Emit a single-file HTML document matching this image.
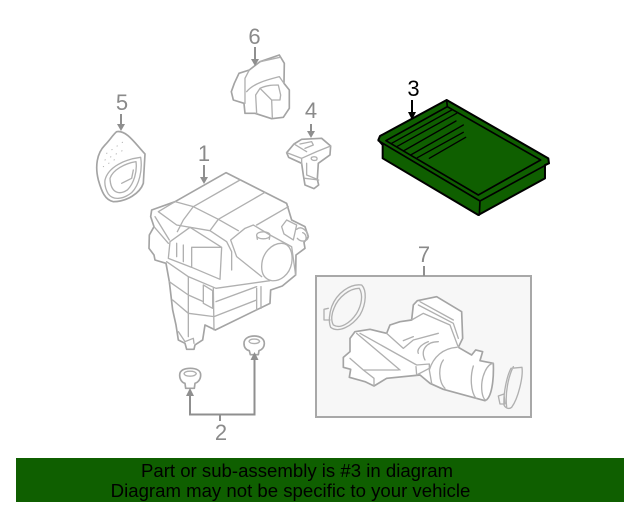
<!DOCTYPE html>
<html><head><meta charset="utf-8"><style>
html,body{margin:0;padding:0;background:#fff;width:640px;height:512px;overflow:hidden}
svg{display:block}
text{font-family:"Liberation Sans",sans-serif}
.p path{fill:none;stroke:#b0b0b0;stroke-width:4;stroke-linejoin:round;stroke-linecap:round}
.p .o{fill:#fff;stroke:#a4a4a4;stroke-width:5}
.t{fill:#8a8a8a;font-size:22px;text-anchor:middle}
.l{stroke:#8f8f8f;stroke-width:2;fill:none}
.a{fill:#8f8f8f}
</style></head><body>
<svg width="640" height="512" viewBox="0 0 640 512" xmlns="http://www.w3.org/2000/svg">
<!-- part 1 -->
<g class="p" transform="translate(130,160) scale(.3333)">
<path class="o" d="M65,150 L135,125 L288,38 L470,130 L485,180 L525,200 L535,230 L522,247 L525,265 L498,285 L497,345 L457,378 L422,390 L420,430 L256,510 L225,495 L218,540 L195,555 L192,568 L170,568 L165,550 L145,540 L138,495 L128,450 L118,365 L108,310 L75,300 L72,285 L57,265 L58,225 L72,200 L62,170 Z"/>
<path d="M135,125 L190,140 L330,60 M190,140 L265,178 L405,97 M265,178 L325,212 M265,178 L240,212 M190,140 L160,180 L142,215 M85,155 L135,125 M85,155 L140,195 L240,212 L290,245 L305,275 L305,330 M75,170 L118,240 M72,200 L115,250 M380,195 L475,140"/>
<path d="M120,245 L180,202 L275,262 L270,358 L185,322 L115,295 Z M185,262 L275,262 M185,262 L185,322 M160,255 L160,305 M140,250 L140,290"/>
<path d="M110,305 L175,350 L258,385 L420,362 M118,365 L175,405 L220,425 M128,420 L175,460 L252,470 L380,420 M258,425 L380,380 M175,350 L175,530 M250,385 L252,510 M380,385 L380,450 M393,380 L393,445 M220,375 L248,392 L248,445 L220,430 Z M145,515 L165,545 L190,535 L192,550"/>
<path d="M302,240 L345,205 L370,195 L420,225 L470,252 L485,260 L497,345 M302,240 L320,290 L395,350"/>
<path d="M395,320 C395,280 425,250 455,250 C480,250 490,280 485,310 C478,345 450,365 425,362 C405,358 395,345 395,320 Z"/>
<path d="M380,226 C380,212 420,212 420,226 C420,240 380,240 380,226 Z M380,226 L382,238 M420,226 L418,238"/>
<path d="M455,200 L470,180 L500,195 L490,240 L462,222 Z M500,208 C515,195 535,215 535,232 C530,248 510,245 502,235 M518,218 C525,220 530,228 528,238"/>
</g>
<!-- part 6 -->
<g class="p" transform="translate(90,20) scale(.3333)">
<path class="o" d="M433,190 L447,160 L478,150 L510,125 L568,105 L583,130 L582,190 L598,210 L598,265 L580,292 L545,296 L495,280 L465,280 L462,250 L430,240 L424,215 Z"/>
<path d="M478,150 L465,175 L465,250 M470,215 C490,190 530,180 568,170 L582,190 M510,125 L570,112 M497,225 L500,280 M497,225 L510,205 L545,240 L547,292 M510,205 C530,195 550,195 565,195 L572,225 L570,240 L548,240"/>
</g>
<!-- part 5 -->
<g class="p" transform="translate(90,20) scale(.3333)">
<path class="o" d="M80,335 C110,330 135,370 165,402 L160,490 C150,520 110,545 70,545 C45,540 35,515 25,480 C15,440 20,400 45,375 C60,360 68,345 80,335 Z"/>
<path d="M45,480 C55,440 105,418 152,412 C158,450 148,495 125,518 C100,538 70,542 55,522 C48,510 43,495 45,480 Z M60,475 C68,450 105,430 138,425 C142,455 132,490 112,510 C90,525 62,522 60,475 Z M95,490 L125,475 L130,450"/>
<path style="stroke-dasharray:1 18;stroke-width:3" d="M50,400 L100,365 M45,420 L110,385 M40,440 L80,415"/>
</g>
<!-- part 4 -->
<g class="p" transform="translate(90,20) scale(.3333)">
<path class="o" d="M612,372 L635,358 L695,355 L722,378 L720,405 L685,430 L682,478 L686,495 L672,506 L645,495 L640,465 L635,430 L596,412 L590,398 Z"/>
<path d="M590,398 L635,415 L680,395 L722,378 M635,415 L635,432 M612,372 L650,395 M630,372 L665,365 L670,375 L645,385 M665,412 C675,408 685,412 680,420 C670,424 660,418 665,412 M650,430 L650,465 L682,478 M645,475 L686,480"/>
</g>
<!-- grommets -->
<g class="p" transform="translate(165,330) scale(.3333)">
<path class="o" d="M44,135 C44,120 60,115 76,115 C95,115 107,122 107,135 C107,150 97,158 90,160 L88,175 L62,175 L60,160 C52,158 44,150 44,135 Z"/>
<path d="M57,131 C60,121 90,121 94,131 C90,141 60,141 57,131 Z"/>
<path class="o" d="M237,40 C237,24 253,18 268,18 C285,18 298,26 298,40 C298,54 288,60 282,62 L280,74 L256,74 L253,62 C245,60 237,54 237,40 Z"/>
<path d="M252,34 C255,25 280,25 284,34 C280,43 255,43 252,34 Z"/>
</g>
<!-- part 3 -->
<g transform="translate(370,75) scale(.3333)" stroke="#000" stroke-width="5" stroke-linejoin="round" stroke-linecap="round" fill="#0f5f00">
<path stroke-width="6" d="M25,195 L30,183 L230,75 L535,250 L537,265 L525,270 L525,310 L325,420 L38,250 L38,210 Z"/>
<path fill="none" d="M25,197 L330,378 L537,265 M330,378 L328,420 M48,197 L325,360 L512,255 L232,95 Z M230,75 L232,95"/>
<path fill="none" stroke-width="4" d="M65,205 L245,105 M80,215 L260,115 M100,228 L258,138 M122,240 L280,150 M142,248 L280,172 M178,250 L287,187"/>
</g>
<!-- part 7 -->
<rect x="316" y="276" width="215" height="141" fill="#f7f7f7" stroke="#a8a8a8" stroke-width="2"/>
<g class="p" transform="translate(310,270) scale(.3333)">
<path class="o" d="M310,105 L322,92 L380,80 L455,125 L458,205 L445,232 L485,255 L497,240 L518,245 L510,272 L550,280 C552,330 545,385 525,392 L400,358 L360,340 L330,315 L230,325 L192,348 L165,335 L118,322 L122,298 L100,292 L100,262 L120,245 L120,205 L135,185 L180,178 L230,190 L240,165 L270,155 L305,150 Z"/>
<path d="M140,190 L270,300 M150,190 L320,285 L358,282 L358,295 L320,315 L318,290 M120,265 L160,300 L265,300 M160,300 L192,325 L192,348 M230,190 L280,235 L310,210 L385,190 M280,212 L310,200 M305,150 L340,130 L420,165 L445,232 M325,105 L430,160 L445,205 M330,95 L430,150"/>
<path d="M355,215 C330,225 320,240 325,250 M385,215 C350,215 330,240 345,270 M440,232 C400,235 370,260 358,300 L365,340"/>
<path d="M400,270 C385,290 385,335 405,355 M490,288 C480,320 482,365 498,385 M550,280 C530,282 515,320 515,350 C515,375 522,392 530,390"/>
<path d="M65,110 C80,70 120,40 155,45 C170,60 170,100 150,135 C125,170 85,190 62,172 C55,155 58,130 65,110 Z M72,115 C85,80 120,55 148,55 C160,75 155,105 140,130 C120,160 90,178 70,165 C62,150 65,130 72,115 Z"/>
<path d="M55,115 L42,118 L42,150 L60,150"/>
<path d="M603,295 L636,292 C640,320 625,385 605,412 C595,420 585,412 582,405 C580,370 590,320 603,295 Z M610,290 C595,320 585,370 590,410 M565,378 L582,372 L585,402 L570,402 Z"/>
</g>
<!-- leaders -->
<line class="l" x1="424" y1="266" x2="424" y2="276"/>
<path class="l" d="M204,165 V178"/><path class="a" d="M200,177 h8 l-4,7 z"/>
<path class="l" d="M121,114 V125"/><path class="a" d="M117,124 h8 l-4,7 z"/>
<path class="l" d="M255,47 V60"/><path class="a" d="M251,59 h8 l-4,7 z"/>
<path class="l" d="M311,124 V132"/><path class="a" d="M307,131 h8 l-4,7 z"/>
<path d="M412,100 V113" stroke="#000" stroke-width="2" fill="none"/><path d="M408,112 h8 l-4,8 z"/>
<path class="l" d="M190,394 V414.500 H254.500 V358 M220,414 V421"/>
<path class="a" d="M186,396 h8 l-4,-8 z M250.500,360 h8 l-4,-8 z"/>
<!-- labels -->
<text class="t" x="204" y="161">1</text>
<text class="t" x="221" y="440">2</text>
<text x="413.500" y="96" font-size="22" text-anchor="middle" fill="#000">3</text>
<text class="t" x="311" y="118">4</text>
<text class="t" x="122" y="110">5</text>
<text class="t" x="254.500" y="44">6</text>
<text class="t" x="424" y="262">7</text>
<!-- banner -->
<rect x="16" y="458" width="608" height="44" fill="#0f5f00"/>
<text x="297" y="477" font-size="18.600" text-anchor="middle" fill="#000">Part or sub-assembly is #3 in diagram</text>
<text x="290.500" y="497" font-size="18.600" text-anchor="middle" fill="#000">Diagram may not be specific to your vehicle</text>
</svg>
</body></html>
